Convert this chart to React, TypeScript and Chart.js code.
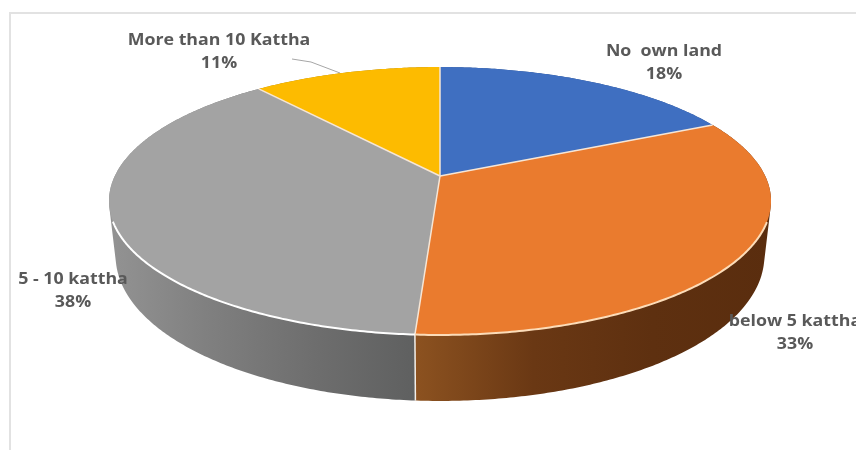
import React, { useEffect, useRef } from "react";
import { Chart, registerables } from "chart.js";

Chart.register(...registerables);

const categories = ["No  own land", "below 5 kattha", "5 - 10 kattha", "More than 10 Kattha"];
const shares = [18, 33, 38, 11];
const topColours = ["#3f6fc1", "#ea7b2e", "#a3a3a3", "#fdbb00"];
const rimColours = ["#ffffff", "#fcdcb8", "#ffffff", "#ffffff"];
const wallStops = [
  ["#2c4f8a", "#2c4f8a"],
  ["#8c5220", "#6a3814", "#5e3010", "#5a2d0e"],
  ["#939393", "#7f7f7f", "#6e6e6e", "#5f6060"],
  ["#a87c00", "#a87c00"],
];
const labelAnchors = [
  { x: 664, y: 51 },
  { x: 795, y: 321 },
  { x: 73, y: 279 },
  { x: 219, y: 40 },
];

// Projection of the pie's flat disc onto the canvas: a foreshortened circle
// whose near edge is larger than its far edge.
const CENTRE_X = 440;
const CENTRE_Y = 176;
const SPREAD_X = 325.2;
const SPREAD_Y = 129.3;
const PERSPECTIVE = 0.1866;
const WALL_DROP_SIDE = 52;
const WALL_DROP_NEAR = 14;
const WALL_SHRINK = 0.98;
const STEP = 0.01;
const TEXT_STRETCH = 1.11;

type Pt = { x: number; y: number };

function rim(angle: number): Pt {
  const u = Math.cos(angle);
  const v = Math.sin(angle);
  const w = 1 - PERSPECTIVE * v;
  return { x: CENTRE_X + (SPREAD_X * u) / w, y: CENTRE_Y + (SPREAD_Y * v) / w };
}

// The pie's lower edge: narrower than the top, and the wall is taller towards the viewer.
function floor(angle: number): Pt {
  const p = rim(angle);
  return {
    x: CENTRE_X + (p.x - CENTRE_X) * WALL_SHRINK,
    y: p.y + WALL_DROP_SIDE + WALL_DROP_NEAR * Math.sin(angle),
  };
}

function arcAngles(start: number, end: number): number[] {
  const out: number[] = [];
  for (let a = start; a < end; a += STEP) out.push(a);
  out.push(end);
  return out;
}

function wallBounds(start: number, end: number): [number, number] {
  const xs = arcAngles(start, end)
    .map(rim)
    .filter((p) => p.y > CENTRE_Y)
    .map((p) => p.x);
  return xs.length ? [Math.min(...xs), Math.max(...xs)] : [0, 856];
}

function signedArea(pts: Pt[]): number {
  return pts.reduce((sum, p, i) => {
    const q = pts[(i + 1) % pts.length];
    return sum + p.x * q.y - q.x * p.y;
  }, 0);
}

const tiltedPie = {
  id: "tiltedPie",
  // Replaces the flat arc drawing: every wedge is traced from the angles the
  // pie controller computed for its arc element.
  beforeDatasetsDraw(chart: any) {
    const { ctx } = chart;
    const arcs = chart.getDatasetMeta(0).data;

    // Outer walls first, so the top surface covers their far parts. Each wall
    // is one path of thin quads, all wound the same way, so the silhouette
    // follows the tangent at the sides.
    arcs.forEach((arc: any, i: number) => {
      const angles = arcAngles(arc.startAngle, arc.endAngle);
      const [x0, x1] = wallBounds(arc.startAngle, arc.endAngle);
      const grad = ctx.createLinearGradient(x0, 0, x1, 0);
      const stops = wallStops[i];
      stops.forEach((c, s) => grad.addColorStop(s / (stops.length - 1), c));
      ctx.fillStyle = grad;
      ctx.beginPath();
      for (let n = 0; n + 1 < angles.length; n++) {
        const quad = [rim(angles[n]), rim(angles[n + 1]), floor(angles[n + 1]), floor(angles[n])];
        if (signedArea(quad) < 0) quad.reverse();
        quad.forEach((p, k) => (k ? ctx.lineTo(p.x, p.y) : ctx.moveTo(p.x, p.y)));
        ctx.closePath();
      }
      ctx.fill();
    });

    // Seam on the wall where the two front slices meet.
    const seam = arcs[1].endAngle;
    ctx.beginPath();
    ctx.moveTo(rim(seam).x, rim(seam).y);
    ctx.lineTo(floor(seam).x, floor(seam).y);
    ctx.strokeStyle = "#f4efe9";
    ctx.lineWidth = 1.5;
    ctx.stroke();

    // Top surface.
    arcs.forEach((arc: any) => {
      ctx.beginPath();
      ctx.moveTo(CENTRE_X, CENTRE_Y);
      arcAngles(arc.startAngle, arc.endAngle).forEach((a) => {
        const p = rim(a);
        ctx.lineTo(p.x, p.y);
      });
      ctx.closePath();
      ctx.fillStyle = arc.options.backgroundColor;
      ctx.fill();
    });

    // Spokes between the slices.
    ctx.strokeStyle = "#f6e6d6";
    ctx.lineWidth = 1.5;
    arcs.forEach((arc: any) => {
      const p = rim(arc.startAngle);
      ctx.beginPath();
      ctx.moveTo(CENTRE_X, CENTRE_Y);
      ctx.lineTo(p.x, p.y);
      ctx.stroke();
    });

    // Bright edge along the near part of the disc only.
    arcs.forEach((arc: any, i: number) => {
      const near = arcAngles(arc.startAngle, arc.endAngle)
        .map(rim)
        .filter((p) => p.y > CENTRE_Y + 45);
      if (!near.length) return;
      ctx.beginPath();
      near.forEach((p, n) => (n ? ctx.lineTo(p.x, p.y) : ctx.moveTo(p.x, p.y)));
      ctx.strokeStyle = rimColours[i];
      ctx.lineWidth = 2;
      ctx.stroke();
    });
    return false;
  },
  afterDraw(chart: any) {
    const { ctx } = chart;
    // Leader from the smallest slice to its label.
    ctx.beginPath();
    ctx.moveTo(292, 59);
    ctx.lineTo(311, 62);
    ctx.lineTo(340, 73);
    ctx.strokeStyle = "#a6a6a6";
    ctx.lineWidth = 1;
    ctx.stroke();

    ctx.fillStyle = "#595959";
    ctx.textAlign = "center";
    ctx.textBaseline = "middle";
    ctx.font = "bold 16px 'Open Sans'";
    const stretched = (text: string, x: number, y: number) => {
      ctx.save();
      ctx.translate(x, y);
      ctx.scale(TEXT_STRETCH, 1);
      ctx.fillText(text, 0, 0);
      ctx.restore();
    };
    categories.forEach((name, i) => {
      const { x, y } = labelAnchors[i];
      stretched(name, x, y);
      stretched(`${shares[i]}%`, x, y + 23);
    });
  },
};

export default function App() {
  const ref = useRef<HTMLCanvasElement>(null);
  useEffect(() => {
    const chart = new Chart(ref.current!, {
      type: "pie",
      data: {
        labels: categories,
        datasets: [{ data: shares, backgroundColor: topColours, borderWidth: 0 }],
      },
      options: {
        responsive: false,
        animation: false,
        plugins: { legend: { display: false }, tooltip: { enabled: false } },
      },
      plugins: [tiltedPie],
    });
    return () => chart.destroy();
  }, []);
  return (
    <div style={{ position: "fixed", left: 0, top: 0, width: 856, height: 450, background: "#fff", overflow: "hidden" }}>
      <div
        style={{
          position: "absolute",
          left: 9,
          top: 12,
          width: 860,
          height: 450,
          border: "2px solid #e2e2e2",
          boxSizing: "border-box",
        }}
      />
      <canvas ref={ref} width={856} height={450} style={{ position: "absolute", left: 0, top: 0, display: "block" }} />
    </div>
  );
}
